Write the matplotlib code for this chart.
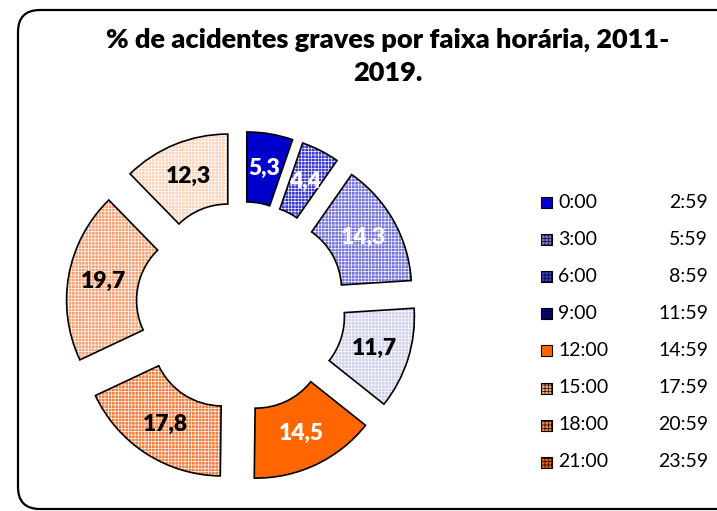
import matplotlib
matplotlib.use('Agg')
import matplotlib.pyplot as plt
from matplotlib.patches import FancyBboxPatch, Rectangle

plt.rcParams['font.family'] = ['Lato', 'DejaVu Sans']
plt.rcParams['hatch.linewidth'] = 0.45

# data (clockwise from 12 o'clock)
values = [5.3, 4.4, 14.3, 11.7, 14.5, 17.8, 19.7, 12.3]
slice_colors = ['#0000CC', '#3A3AD0', '#7575DC', '#D1D1F0',
                '#FF6600', '#F28040', '#F5A375', '#FBD6BD']
slice_hatch = ['', '+++++', '+++++', '+++++', '', '+++++', '+++++', '+++++']
label_colors = ['white', 'white', 'white', 'black', 'white', 'black', 'black', 'black']

legend_start = ['0:00', '3:00', '6:00', '9:00', '12:00', '15:00', '18:00', '21:00']
legend_end = ['2:59', '5:59', '8:59', '11:59', '14:59', '17:59', '20:59', '23:59']
legend_colors = ['#0000CC', '#7575DC', '#3A3AD0', '#0000A8',
                 '#FF6600', '#F5A375', '#F28040', '#F05A08']
legend_hatch = ['', '+++++', '+++++', '+++++', '', '+++++', '+++++', '+++++']

title = '% de acidentes graves por faixa horária, 2011-\n2019.'

W, H = 717, 511
fig = plt.figure(figsize=(W / 100, H / 100), dpi=100)
ax = fig.add_axes([0, 0, 1, 1])

# donut (pixel units, y up)
cx, cy = 241, H - 306.5
R, ring, expl = 140, 70, 35

wedges, _, autotexts = ax.pie(
    values, radius=R, center=(cx, cy), explode=[expl] * len(values),
    startangle=90, counterclock=False, colors=slice_colors,
    autopct=lambda p: f'{p:.1f}'.replace('.', ','), pctdistance=0.75,
    wedgeprops=dict(width=ring, linewidth=0),
    textprops=dict(fontsize=16.5, fontweight='heavy'))
for w, h in zip(wedges, slice_hatch):
    if h:
        w.set_hatch(h)
        w.set_edgecolor('white')
for t, c in zip(autotexts, label_colors):
    t.set_color(c)
    t.set_zorder(5)

# black outlines on top
outl, _ = ax.pie(values, radius=R, center=(cx, cy), explode=[expl] * len(values),
                 startangle=90, counterclock=False, colors=['none'] * len(values),
                 wedgeprops=dict(width=ring, linewidth=1.2, edgecolor='black'))

ax.set_xlim(0, W)
ax.set_ylim(0, H)
ax.set_aspect('equal')
ax.axis('off')

# rounded chart border
border = FancyBboxPatch((18, H - 509), 760, 499, boxstyle='round,pad=0,rounding_size=22',
                        facecolor='none', edgecolor='black', linewidth=1.6, clip_on=False)
ax.add_patch(border)

ax.text(388, H - 56, title, ha='center', va='center', fontsize=19.5, fontweight='heavy',
        linespacing=1.45)

# legend
for i in range(len(legend_start)):
    y = H - (202 + i * 37.1)
    sq = Rectangle((541, y - 6), 11, 11, facecolor=legend_colors[i], edgecolor='black',
                   linewidth=0.8, hatch=legend_hatch[i] or None)
    ax.add_patch(sq)
    ax.text(558, y, legend_start[i], ha='left', va='center', fontsize=14)
    ax.text(708, y, legend_end[i], ha='right', va='center', fontsize=14)

fig.savefig('out.png', dpi=100)
